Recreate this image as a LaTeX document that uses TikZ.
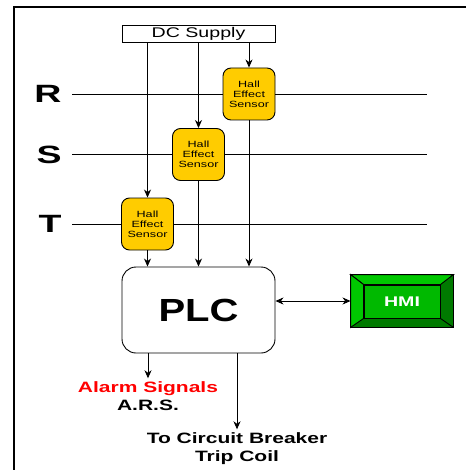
\documentclass[tikz,border=0pt]{standalone}
\usepackage{fontspec}
\setmainfont{Liberation Sans}
\usepackage{graphicx}
\usepackage{tikz}
\usetikzlibrary{arrows.meta,positioning,calc}
\definecolor{sensoryellow}{RGB}{255,204,0}
\definecolor{hmiface}{RGB}{0,185,0}
\definecolor{hmilight}{RGB}{0,200,0}
\definecolor{hmidark}{RGB}{0,122,0}
\newcommand{\sx}[1]{\scalebox{1.4}[1]{#1}}
\tikzset{
  hes/.style={draw,fill=sensoryellow,rounded corners=8pt,minimum width=52pt,minimum height=52pt,inner sep=0pt,align=center,font=\fontsize{9}{10}\selectfont},
  phase/.style={font=\fontsize{25}{25}\selectfont\bfseries,inner sep=0pt},
  lbl/.style={font=\fontsize{15}{17.5}\selectfont\bfseries,align=center,inner sep=3pt},
}

\begin{document}
\begin{tikzpicture}[x=1pt,y=-1pt,line width=0.9pt,>={Stealth[length=8pt,width=7pt,inset=2.5pt]}]
            \useasboundingbox (0,0) rectangle (466,470);
            \draw [line width=2pt] (466,7) -- (14,7) -- (14,470);
            \node [draw,minimum width=153pt,minimum height=17pt,inner sep=0pt,font=\fontsize{14}{14}\selectfont] (dc) at (198.5,33.5) {\sx{DC Supply}};
            \node [hes] (sR) at (249,94) {\sx{Hall}\\\sx{Effect}\\\sx{Sensor}};
            \node [hes] (sS) at (198.5,154.5) {\sx{Hall}\\\sx{Effect}\\\sx{Sensor}};
            \node [hes] (sT) at (147.5,224) {\sx{Hall}\\\sx{Effect}\\\sx{Sensor}};
            \coordinate (Ra) at (72,94);
            \coordinate (Rb) at (427,94);
            \coordinate (Sa) at (72,154.5);
            \coordinate (Sb) at (427,154.5);
            \coordinate (Ta) at (72,224);
            \coordinate (Tb) at (427,224);
            \node [phase,left=10pt of Ra] (lR) {\scalebox{1.5}[1]{R}};
            \node [phase,left=10pt of Sa] (lS) {\scalebox{1.5}[1]{S}};
            \node [phase,left=10pt of Ta] (lT) {\scalebox{1.5}[1]{T}};
            \draw (Ra) -- (sR);
            \draw (sR) -- (Rb);
            \draw (Sa) -- (sS);
            \draw (sS) -- (Sb);
            \draw (Ta) -- (sT);
            \draw (sT) -- (Tb);
            \draw [->] (dc.south -| sT) -- (sT.north);
            \draw [->] (dc.south -| sS) -- (sS.north);
            \draw [->] (dc.south -| sR) -- (sR.north);
            \node [draw,rounded corners=14pt,minimum width=153pt,minimum height=86pt,font=\fontsize{32}{32}\selectfont\bfseries] (plc) at (198.5,310) {\scalebox{1.25}[1]{PLC}};
            \draw [->] (sT.south) -- (sT.south |- plc.north);
            \draw [->] (sS.south) -- (sS.south |- plc.north);
            \draw [->] (sR.south) -- (sR.south |- plc.north);
            \node [draw,fill=hmidark,minimum width=102pt,minimum height=52pt,inner sep=0pt] (hmi) at (402,301) {};
            \coordinate (inw) at ($(hmi.north west)+(13,10)$);
            \coordinate (ine) at ($(hmi.north east)+(-13,10)$);
            \coordinate (isw) at ($(hmi.south west)+(13,-9)$);
            \draw [fill=hmilight] (hmi.north west) -- (hmi.north east) -- (ine) -- (inw) -- cycle;
            \draw [fill=hmilight] (hmi.north west) -- (inw) -- (isw) -- (hmi.south west) -- cycle;
            \draw (hmi.south east) -- ($(hmi.south east)+(-13,-9)$);
            \node [draw,fill=hmiface,minimum width=76pt,minimum height=33pt,inner sep=0pt,text=white,font=\fontsize{14}{14}\selectfont\bfseries] (hmiin) at ($(inw)!0.5!(hmi.south east)+(-6.5,-4.5)$) {\sx{HMI}};
            \draw [<->] (plc.east |- hmi.west) -- (hmi.west);
            \node [lbl] (alarm) at (148,396) {\sx{\textcolor{red}{Alarm Signals}}\\\sx{A.R.S.}};
            \node [lbl] (trip) at (237,448.5) {\sx{To Circuit Breaker}\\\sx{Trip Coil}};
            \draw [->] (plc.south -| alarm) -- (alarm.north);
            \draw [->] (plc.south -| trip) -- (trip.north);
\end{tikzpicture}
\end{document}
